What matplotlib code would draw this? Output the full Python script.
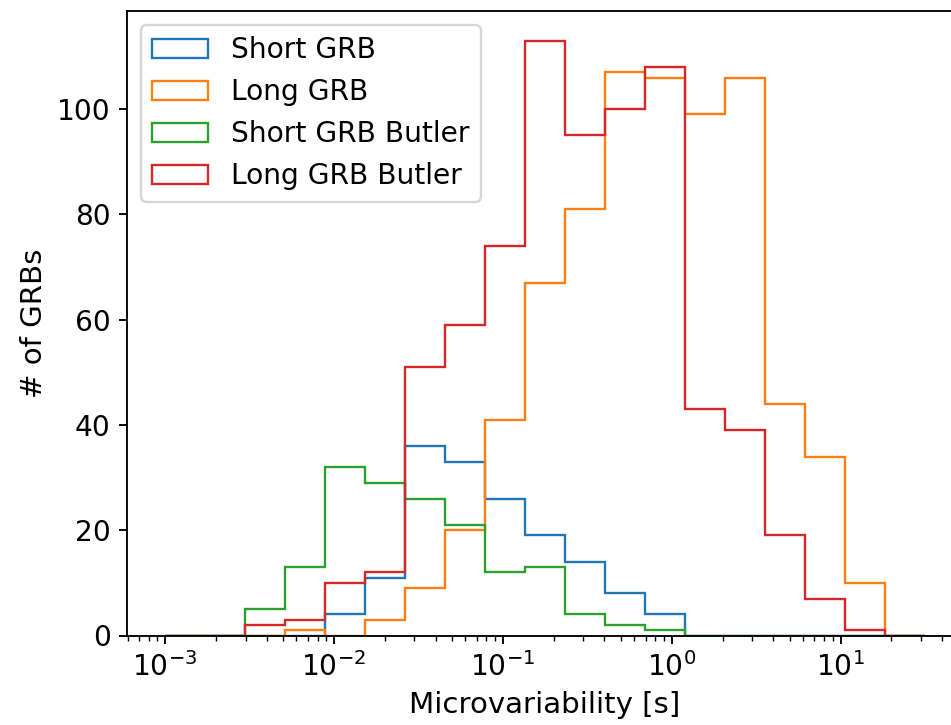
import numpy as np
import matplotlib
matplotlib.use("Agg")
import matplotlib.pyplot as plt

# Logarithmic bin edges shared by all samples (19 bins)
bin_edges = np.logspace(-3, 1.5, 20)

# Counts per bin for each sample
short_grb = [0, 0, 0, 0, 4, 11, 36, 33, 26, 19, 14, 8, 4, 0, 0, 0, 0, 0, 0]
long_grb = [0, 0, 0, 1, 0, 3, 9, 20, 41, 67, 81, 107, 106, 99, 106, 44, 34, 10, 0]
short_grb_butler = [0, 0, 5, 13, 32, 29, 26, 21, 12, 13, 4, 2, 1, 0, 0, 0, 0, 0, 0]
long_grb_butler = [0, 0, 2, 3, 10, 12, 51, 59, 74, 113, 95, 100, 108, 43, 39, 19, 7, 1, 0]

series = [
    ("Short GRB", short_grb),
    ("Long GRB", long_grb),
    ("Short GRB Butler", short_grb_butler),
    ("Long GRB Butler", long_grb_butler),
]

plt.rcParams.update({
    "xtick.labelsize": 12,
    "ytick.labelsize": 12,
    "axes.labelsize": 12.5,
    "legend.fontsize": 12,
})

dpi = 168.6
fig = plt.figure(figsize=(951 / dpi, 725 / dpi), dpi=dpi)
ax = fig.add_axes([127 / 951, 1 - 635.5 / 725, (963 - 127) / 951, (635.5 - 11) / 725])

lefts = bin_edges[:-1]
for label, counts in series:
    ax.hist(lefts, bins=bin_edges, weights=counts, histtype="step", label=label)

ax.set_xscale("log")
ax.set_xlabel("Microvariability [s]")
ax.set_ylabel("# of GRBs")
ax.legend(loc="upper left")

fig.savefig("out.png", dpi=dpi)
